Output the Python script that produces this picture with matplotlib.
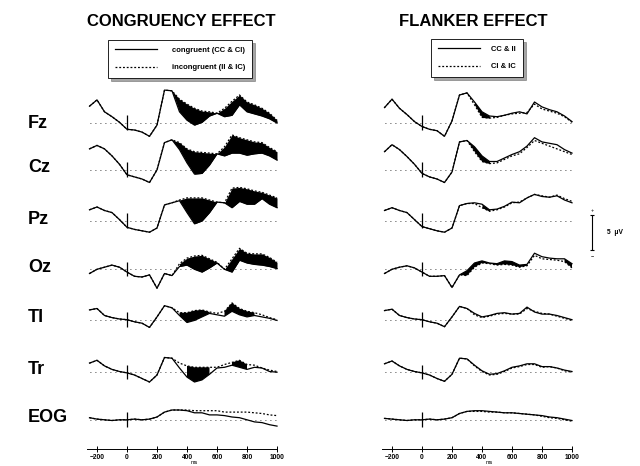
import numpy as np
import matplotlib
matplotlib.use("Agg")
import matplotlib.pyplot as plt

plt.rcParams['font.family'] = ['Liberation Sans', 'DejaVu Sans']

# time points (ms)
times = list(range(-250, 1001, 50))
channels = ['Fz', 'Cz', 'Pz', 'Oz', 'Tl', 'Tr', 'EOG']

# ---- congruency effect (uV) ----
fz_con = [2.4, 3.3, 1.6, 0.9, 0.1, -0.9, -1.0, -1.3, -1.9, -0.3, 4.7, 4.6,
          1.6, 0.4, -0.3, 0.1, 1.0, 1.4, 0.9, 1.1, 2.6, 1.6, 1.3, 1.0, 0.6, 0.0]
fz_inc = [2.4, 3.3, 1.6, 0.9, 0.1, -0.9, -1.0, -1.3, -1.9, -0.3, 4.7, 4.6,
          3.4, 2.7, 2.1, 1.7, 1.6, 1.4, 2.1, 3.1, 4.0, 3.0, 2.6, 2.1, 1.4, 0.4]
cz_con = [3.0, 3.5, 3.0, 2.0, 0.8, -0.7, -1.0, -1.3, -1.8, 0.0, 3.9, 4.3,
          2.9, 1.0, -0.6, -0.5, 0.7, 2.3, 2.0, 2.4, 2.4, 2.1, 2.3, 2.4, 2.0, 1.4]
cz_inc = [3.0, 3.5, 3.0, 2.0, 0.8, -0.7, -1.0, -1.3, -1.8, 0.0, 3.9, 4.3,
          3.9, 3.0, 2.6, 2.5, 2.4, 2.3, 3.3, 5.0, 4.6, 4.3, 4.0, 3.9, 3.2, 2.6]
pz_con = [1.6, 2.0, 1.5, 1.2, 0.2, -0.9, -1.2, -1.4, -1.6, -1.0, 2.3, 2.6,
          2.9, 1.2, -0.4, 0.0, 1.2, 2.7, 2.6, 1.9, 2.8, 2.4, 2.4, 3.2, 2.4, 1.9]
pz_inc = [1.6, 2.0, 1.5, 1.2, 0.2, -0.9, -1.2, -1.4, -1.6, -1.0, 2.3, 2.6,
          3.0, 3.3, 3.3, 3.3, 3.0, 2.7, 2.6, 4.7, 4.8, 4.6, 4.3, 4.1, 3.7, 3.3]
oz_con = [-0.6, 0.0, 0.3, 0.6, 0.3, -0.4, -1.0, -1.1, -0.8, -2.7, -0.6, -0.9,
          0.4, 0.6, 0.0, -0.4, 0.2, 0.9, 0.0, -0.4, 1.3, 0.9, 0.7, 0.6, 0.4, 0.1]
oz_inc = [-0.6, 0.0, 0.3, 0.6, 0.3, -0.4, -1.0, -1.1, -0.8, -2.7, -0.6, -0.9,
          0.8, 1.6, 1.9, 2.0, 1.5, 1.0, 0.0, 1.5, 3.0, 2.3, 2.2, 2.2, 1.7, 1.0]
tl_con = [1.4, 1.6, 0.6, 0.3, 0.1, 0.0, -0.3, -0.5, -1.1, 0.4, 2.0, 1.7,
          0.6, -0.4, -0.1, 0.4, 0.9, 0.7, 0.5, 1.2, 0.7, 0.4, 0.6, 0.4, 0.2, -0.1]
tl_inc = [1.4, 1.6, 0.6, 0.3, 0.1, 0.0, -0.3, -0.5, -1.1, 0.4, 2.0, 1.7,
          1.0, 1.0, 1.3, 1.4, 1.1, 0.9, 1.2, 2.4, 1.6, 1.2, 1.0, 0.7, 0.3, 0.0]
tr_con = [1.3, 1.7, 0.9, 0.4, 0.1, -0.1, -0.4, -0.9, -1.4, -0.4, 2.1, 2.0,
          0.6, -0.7, -1.4, -1.1, -0.3, 0.6, 0.7, 1.0, 0.7, 0.4, 0.7, 0.6, 0.1, 0.0]
tr_inc = [1.3, 1.7, 0.9, 0.4, 0.1, -0.1, -0.4, -0.9, -1.4, -0.4, 2.1, 2.0,
          1.3, 0.9, 0.7, 0.7, 0.7, 0.7, 1.1, 1.4, 1.7, 1.1, 1.0, 0.6, 0.3, 0.1]
eog_con = [0.3, 0.1, 0.0, -0.1, 0.0, 0.0, 0.1, 0.0, 0.1, 0.4, 1.1, 1.4,
           1.4, 1.3, 1.0, 1.0, 0.7, 0.7, 0.6, 0.4, 0.3, 0.0, -0.3, -0.4, -0.7, -0.9]
eog_inc = [0.3, 0.1, 0.0, -0.1, 0.0, 0.0, 0.1, 0.0, 0.1, 0.4, 1.1, 1.4,
           1.4, 1.4, 1.3, 1.3, 1.3, 1.3, 1.1, 1.1, 1.1, 1.1, 1.0, 0.9, 0.7, 0.6]

# ---- flanker effect (uV) ----
fz_same = [2.2, 3.4, 2.1, 1.2, 0.2, -0.5, -0.9, -1.1, -1.9, 0.3, 4.0, 4.3,
           3.0, 1.6, 1.0, 0.9, 1.1, 1.4, 1.6, 1.3, 3.0, 2.3, 1.9, 1.6, 1.0, 0.2]
fz_diff = [2.2, 3.4, 2.1, 1.2, 0.2, -0.5, -0.9, -1.1, -1.9, 0.3, 4.0, 4.3,
           2.6, 0.8, 0.7, 0.8, 1.1, 1.3, 1.4, 1.5, 2.7, 2.0, 1.7, 1.4, 0.9, 0.1]
cz_same = [2.6, 3.6, 2.9, 1.9, 0.8, -0.5, -1.0, -1.3, -1.8, -0.3, 4.0, 4.2,
           3.3, 2.0, 1.2, 1.2, 1.7, 2.2, 2.6, 3.4, 4.6, 4.0, 3.8, 3.6, 2.9, 2.4]
cz_diff = [2.6, 3.6, 2.9, 1.9, 0.8, -0.5, -1.0, -1.3, -1.8, -0.3, 4.0, 4.2,
           2.6, 1.2, 0.9, 1.0, 1.5, 2.0, 2.3, 3.2, 4.2, 3.8, 3.4, 3.0, 2.6, 2.2]
pz_same = [1.5, 1.9, 1.5, 1.2, 0.2, -0.8, -1.1, -1.4, -1.6, -1.0, 2.2, 2.5,
           2.6, 2.4, 1.6, 1.7, 2.1, 2.7, 2.6, 3.3, 3.8, 3.5, 3.4, 3.6, 3.0, 2.6]
pz_diff = [1.5, 1.9, 1.5, 1.2, 0.2, -0.8, -1.1, -1.4, -1.6, -1.0, 2.2, 2.5,
           2.5, 1.9, 1.4, 1.6, 2.0, 2.6, 2.7, 3.3, 3.8, 3.6, 3.4, 3.7, 3.2, 2.8]
oz_same = [-0.6, 0.0, 0.3, 0.5, 0.2, -0.4, -1.0, -1.0, -0.9, -2.6, -0.8, -0.2,
           0.9, 1.2, 0.9, 0.8, 1.2, 1.1, 0.6, 0.7, 2.3, 1.8, 1.6, 1.5, 1.5, 0.8]
oz_diff = [-0.6, 0.0, 0.3, 0.5, 0.2, -0.4, -1.0, -1.0, -0.9, -2.6, -0.8, -0.9,
           0.3, 0.9, 0.8, 0.6, 0.7, 0.6, 0.3, 0.5, 2.0, 1.5, 1.4, 1.3, 1.1, 0.2]
tl_same = [1.3, 1.5, 0.6, 0.3, 0.1, 0.0, -0.3, -0.5, -1.0, 0.4, 1.9, 1.6,
           0.9, 0.4, 0.6, 0.9, 1.0, 0.8, 0.9, 1.8, 1.1, 0.8, 0.8, 0.6, 0.3, 0.0]
tl_diff = [1.3, 1.5, 0.6, 0.3, 0.1, 0.0, -0.3, -0.5, -1.0, 0.4, 1.9, 1.6,
           0.7, 0.3, 0.5, 0.8, 0.9, 0.8, 0.8, 1.6, 1.2, 0.9, 0.8, 0.5, 0.2, -0.1]
tr_same = [1.2, 1.6, 0.9, 0.4, 0.1, -0.1, -0.4, -0.9, -1.3, -0.3, 2.0, 1.9,
           1.0, 0.2, -0.3, -0.2, 0.2, 0.7, 0.9, 1.2, 1.2, 0.8, 0.8, 0.6, 0.3, 0.1]
tr_diff = [1.2, 1.6, 0.9, 0.4, 0.1, -0.1, -0.4, -0.9, -1.3, -0.3, 2.0, 1.9,
           0.9, 0.1, -0.4, -0.3, 0.1, 0.6, 0.8, 1.1, 1.1, 0.7, 0.8, 0.6, 0.2, 0.0]
eog_same = [0.2, 0.1, 0.0, -0.1, 0.0, 0.0, 0.1, 0.0, 0.1, 0.3, 0.9, 1.2,
            1.3, 1.3, 1.2, 1.1, 1.0, 1.0, 0.9, 0.8, 0.7, 0.6, 0.4, 0.3, 0.1, -0.1]
eog_diff = [0.2, 0.1, 0.0, -0.1, 0.0, 0.0, 0.1, 0.0, 0.1, 0.3, 0.9, 1.2,
            1.2, 1.2, 1.1, 1.1, 1.0, 1.0, 0.9, 0.8, 0.7, 0.5, 0.3, 0.2, 0.0, -0.2]

# shaded (significant) windows, ms
left_windows = [[(300, 600), (650, 1000)], [(300, 600), (650, 1000)],
                [(350, 600), (650, 1000)], [(350, 600), (650, 1000)],
                [(350, 550), (650, 850)], [(400, 550), (700, 800)], []]
right_windows = [[(350, 450)], [(300, 450)], [(400, 450)],
                 [(250, 450), (500, 700), (950, 1000)], [], [], []]

left_a = [fz_con, cz_con, pz_con, oz_con, tl_con, tr_con, eog_con]
left_b = [fz_inc, cz_inc, pz_inc, oz_inc, tl_inc, tr_inc, eog_inc]
right_a = [fz_same, cz_same, pz_same, oz_same, tl_same, tr_same, eog_same]
right_b = [fz_diff, cz_diff, pz_diff, oz_diff, tl_diff, tr_diff, eog_diff]

# vertical position of each row (uV units, 7 px per uV)
row_offsets = [0, -6.7, -14.0, -20.9, -28.1, -35.6, -42.4]

W, H = 640, 466
fig = plt.figure(figsize=(W / 100, H / 100), dpi=100)
fig.patch.set_facecolor('white')

t = np.array(times)
y_top = (123 - 55) / 7.0
y_bot = -(449 - 123) / 7.0


def panel(left_px, a_list, b_list, windows):
    # 0 ms sits at left_px + 60 px with 0.15 px/ms
    ax = fig.add_axes([left_px / W, (H - 449) / H, 255 / W, (449 - 55) / H])
    ax.set_xlim(-400, 1300)
    ax.set_ylim(y_bot, y_top)
    for s in ['top', 'right', 'left']:
        ax.spines[s].set_visible(False)
    ax.spines['bottom'].set_bounds(-270, 1000)
    ax.spines['bottom'].set_linewidth(0.7)
    ax.set_yticks([])
    ax.set_xticks([-200, 0, 200, 400, 600, 800, 1000])
    ax.tick_params(axis='x', direction='inout', length=4, width=0.7,
                   labelsize=4.8, pad=1.5)
    for lab in ax.get_xticklabels():
        lab.set_fontweight('bold')
    ax.set_xlabel('ms', fontsize=4, labelpad=-0.5)
    handles = None
    for i in range(len(a_list)):
        off = row_offsets[i]
        a = np.array(a_list[i]) + off
        b = np.array(b_list[i]) + off
        ax.hlines(off, -250, 1000, colors='k', linestyles=(0, (1, 5)), lw=0.6)
        ax.vlines(0, off - 1.0, off + 1.1, colors='k', lw=0.9)
        mask = np.zeros(len(t), dtype=bool)
        for w0, w1 in windows[i]:
            mask |= (t >= w0) & (t <= w1)
        if mask.any():
            ax.fill_between(t, a, b, where=mask, color='black', lw=0)
        l1, = ax.plot(t, a, color='k', lw=0.9)
        l2, = ax.plot(t, b, color='k', lw=0.9, ls=(0, (1.5, 1.5)))
        handles = [l1, l2]
    return ax, handles


axL, hL = panel(67, left_a, left_b, left_windows)
axR, hR = panel(362, right_a, right_b, right_windows)

# titles
fig.text(181 / W, 1 - 21 / H, 'CONGRUENCY EFFECT', ha='center', va='center',
         fontsize=12, fontweight='bold')
fig.text(473 / W, 1 - 21 / H, 'FLANKER EFFECT', ha='center', va='center',
         fontsize=12, fontweight='bold')

# row labels
label_y = [123, 168, 219, 268, 318, 370, 418]
for name, yy in zip(channels, label_y):
    fig.text(28 / W, 1 - yy / H, name, ha='left', va='center', fontsize=13,
             fontweight='bold')

# legends
legL = fig.legend(hL, ['congruent (CC & CI)', 'incongruent (II & IC)'],
                  loc='center', bbox_to_anchor=(180 / W, 1 - 59 / H),
                  prop={'size': 5.5, 'weight': 'bold'}, frameon=True,
                  fancybox=False, shadow=True, handlelength=5.5,
                  handletextpad=2.0, edgecolor='k', borderpad=0.9,
                  labelspacing=1.3)
legL.get_frame().set_linewidth(0.6)
legR = fig.legend(hR, ['CC & II', 'CI & IC'],
                  loc='center', bbox_to_anchor=(477 / W, 1 - 58 / H),
                  prop={'size': 5.5, 'weight': 'bold'}, frameon=True,
                  fancybox=False, shadow=True, handlelength=5.5,
                  handletextpad=1.5, edgecolor='k', borderpad=0.9,
                  labelspacing=1.3)
legR.get_frame().set_linewidth(0.6)

# calibration bar (5 uV) on the right panel
sb_x = 1133
sb_c = -15.7
axR.vlines(sb_x, sb_c - 2.5, sb_c + 2.5, colors='k', lw=0.8, clip_on=False)
axR.hlines([sb_c - 2.5, sb_c + 2.5], sb_x - 15, sb_x + 15, colors='k', lw=0.8,
           clip_on=False)
axR.text(sb_x, sb_c + 2.9, '+', ha='center', va='bottom', fontsize=4)
axR.text(sb_x, sb_c - 2.9, '\u2212', ha='center', va='top', fontsize=4)
axR.text(sb_x + 100, sb_c, '5  \u03bcV', ha='left', va='center', fontsize=4.8,
         fontweight='bold', clip_on=False)

fig.savefig('out.png', dpi=100, facecolor='white')
